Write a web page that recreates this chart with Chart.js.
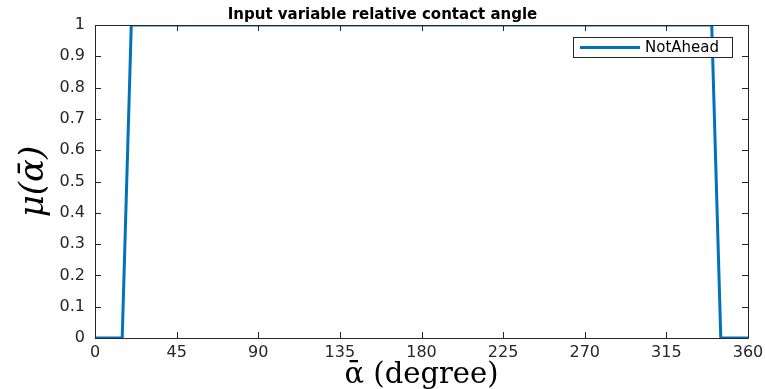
<!DOCTYPE html>
<html>
<head>
<meta charset="utf-8">
<script src="https://cdn.jsdelivr.net/npm/chart.js@4/dist/chart.umd.min.js"></script>
<style>
html,body{margin:0;padding:0;background:#fff;}
#wrap{width:765px;height:389px;}
</style>
</head>
<body>
<div id="wrap"><canvas id="c" width="765" height="389"></canvas></div>
<script>
const xValues = [0, 15, 20, 340, 345, 360];
const yValues = [0, 0, 1, 1, 0, 0];
const xTicks = [0, 45, 90, 135, 180, 225, 270, 315, 360];
const yTicks = [0, 0.1, 0.2, 0.3, 0.4, 0.5, 0.6, 0.7, 0.8, 0.9, 1];
const seriesName = 'NotAhead';
const chartTitle = 'Input variable relative contact angle';
const xLabel = 'ᾱ (degree)';
const yLabel = 'μ(ᾱ)';

const AX = '#262626';
const LINE = '#0072BD';
const SANS = '"DejaVu Sans", Verdana, sans-serif';
const SERIF = '"DejaVu Serif", "Liberation Serif", serif';

const boxPlugin = {
  id: 'boxTicks',
  afterDatasetsDraw(chart) {
    const ctx = chart.ctx, a = chart.chartArea;
    const xs = chart.scales.x, ys = chart.scales.y;
    ctx.save();
    ctx.strokeStyle = AX;
    ctx.lineWidth = 1;
    ctx.beginPath();
    ctx.rect(Math.round(a.left) + 0.5, Math.round(a.top) + 0.5, Math.round(a.right - a.left), Math.round(a.bottom - a.top));
    ctx.stroke();
    const L = 6;
    ctx.beginPath();
    xTicks.forEach(v => {
      const px = Math.round(xs.getPixelForValue(v)) + 0.5;
      ctx.moveTo(px, a.bottom); ctx.lineTo(px, a.bottom - L);
      ctx.moveTo(px, a.top); ctx.lineTo(px, a.top + L);
    });
    yTicks.forEach(v => {
      const py = Math.round(ys.getPixelForValue(v)) + 0.5;
      ctx.moveTo(a.left, py); ctx.lineTo(a.left + L, py);
      ctx.moveTo(a.right, py); ctx.lineTo(a.right - L, py);
    });
    ctx.stroke();
    // legend
    const ds = chart.data.datasets[0];
    const bx = a.right - 175, by = a.top + 12, bw = 159, bh = 20;
    ctx.fillStyle = '#fff';
    ctx.fillRect(bx, by, bw, bh);
    ctx.strokeStyle = AX;
    ctx.strokeRect(bx + 0.5, by + 0.5, bw, bh);
    ctx.strokeStyle = ds.borderColor;
    ctx.lineWidth = 3;
    ctx.beginPath();
    ctx.moveTo(bx + 7, by + bh / 2 + 0.5);
    ctx.lineTo(bx + 67, by + bh / 2 + 0.5);
    ctx.stroke();
    ctx.fillStyle = '#000';
    ctx.font = '15px ' + SANS;
    ctx.textBaseline = 'middle';
    ctx.textAlign = 'left';
    ctx.fillText(ds.label, bx + 72, by + bh / 2 + 1);
    ctx.restore();
  }
};

new Chart(document.getElementById('c'), {
  type: 'line',
  data: {
    datasets: [{
      label: seriesName,
      data: xValues.map((x, i) => ({x: x, y: yValues[i]})),
      borderColor: LINE,
      borderWidth: 3,
      pointRadius: 0,
      fill: false,
      tension: 0
    }]
  },
  options: {
    responsive: false,
    animation: false,
    devicePixelRatio: 1,
    layout: {padding: {left: 0, right: 0, top: 0, bottom: 0}},
    plugins: {
      legend: {display: false},
      tooltip: {enabled: false},
      title: {
        display: true,
        text: chartTitle,
        color: '#000',
        font: {family: SANS, size: 15, weight: 'bold'},
        padding: {top: 6, bottom: 1}
      }
    },
    scales: {
      x: {
        type: 'linear',
        min: 0, max: 360,
        afterBuildTicks: s => { s.ticks = xTicks.map(v => ({value: v})); },
        afterFit: s => { s.height = 51; s.paddingRight = 17; s.paddingLeft = 0; },
        grid: {display: false, drawTicks: false},
        border: {display: false},
        ticks: {color: AX, font: {family: SANS, size: 16}, padding: 5, maxRotation: 0, autoSkip: false},
        title: {display: true, text: xLabel, color: '#000', font: {family: SERIF, size: 29}, padding: {top: 0, bottom: -4}}
      },
      y: {
        type: 'linear',
        min: 0, max: 1,
        afterBuildTicks: s => { s.ticks = yTicks.map(v => ({value: v})); },
        afterFit: s => { s.width = 95; },
        grid: {display: false, drawTicks: false},
        border: {display: false},
        ticks: {color: AX, font: {family: SANS, size: 16}, padding: 10, autoSkip: false, callback: v => String(v)},
        title: {display: true, text: yLabel, color: '#000', font: {family: SERIF, size: 34, style: 'italic'}, padding: {top: 14, bottom: 4}}
      }
    }
  },
  plugins: [boxPlugin]
});
</script>
</body>
</html>
